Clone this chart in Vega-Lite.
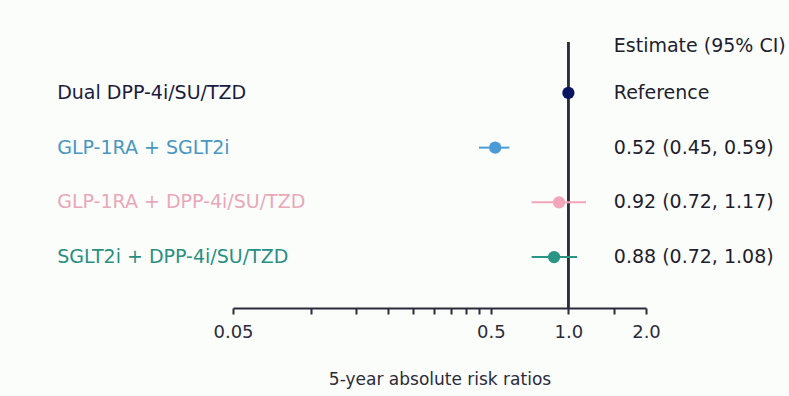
{
  "$schema": "https://vega.github.io/schema/vega-lite/v6.json",
  "width": 413,
  "height": 266,
  "autosize": {"type": "none"},
  "padding": {"left": 233, "top": 42, "right": 143, "bottom": 88},
  "background": "#fbfdfb",
  "config": {
    "view": {"stroke": null},
    "font": "DejaVu Sans"
  },
  "data": {
    "values": [
      {"group": "Dual DPP-4i/SU/TZD", "row": 1, "est": 1.0, "lo": null, "hi": null, "text": "Reference"},
      {"group": "GLP-1RA + SGLT2i", "row": 2, "est": 0.52, "lo": 0.45, "hi": 0.59, "text": "0.52 (0.45, 0.59)"},
      {"group": "GLP-1RA + DPP-4i/SU/TZD", "row": 3, "est": 0.92, "lo": 0.72, "hi": 1.17, "text": "0.92 (0.72, 1.17)"},
      {"group": "SGLT2i + DPP-4i/SU/TZD", "row": 4, "est": 0.88, "lo": 0.72, "hi": 1.08, "text": "0.88 (0.72, 1.08)"}
    ]
  },
  "resolve": {"scale": {"color": "independent"}},
  "layer": [
    {
      "mark": {"type": "rule", "color": "#2b2b3a", "strokeWidth": 2},
      "encoding": {
        "x": {
          "datum": 1,
          "type": "quantitative",
          "scale": {"type": "log", "domain": [0.05, 2], "nice": false, "zero": false},
          "axis": {
            "values": [0.05, 0.1, 0.15, 0.2, 0.25, 0.3, 0.35, 0.4, 0.45, 0.5, 1, 1.5, 2],
            "labelExpr": "datum.value == 0.05 ? '0.05' : datum.value == 0.5 ? '0.5' : datum.value == 1 ? '1.0' : datum.value == 2 ? '2.0' : ''",
            "title": "5-year absolute risk ratios",
            "grid": false,
            "domainColor": "#2b2b3a",
            "domainWidth": 2,
            "tickColor": "#2b2b3a",
            "tickWidth": 2,
            "tickSize": 6,
            "labelFontSize": 18,
            "labelColor": "#2b2b3a",
            "labelPadding": 9,
            "labelFlush": false,
            "labelOverlap": false,
            "titleFontSize": 17,
            "titleFontWeight": "normal",
            "titleColor": "#2b2b3a",
            "titlePadding": 30
          }
        }
      }
    },
    {
      "mark": {"type": "rule", "strokeWidth": 2},
      "encoding": {
        "x": {"field": "lo", "type": "quantitative"},
        "x2": {"field": "hi"},
        "y": {"field": "row", "type": "quantitative", "scale": {"domain": [0.07, 4.93], "reverse": true, "nice": false, "zero": false}, "axis": null},
        "color": {"field": "group", "type": "nominal", "legend": null,
          "scale": {"domain": ["Dual DPP-4i/SU/TZD", "GLP-1RA + SGLT2i", "GLP-1RA + DPP-4i/SU/TZD", "SGLT2i + DPP-4i/SU/TZD"],
                    "range": ["#0a1562", "#4a9bd6", "#f2a6b9", "#2a9485"]}}
      }
    },
    {
      "mark": {"type": "circle", "opacity": 1, "size": 150},
      "encoding": {
        "x": {"field": "est", "type": "quantitative"},
        "y": {"field": "row", "type": "quantitative"},
        "color": {"field": "group", "type": "nominal", "legend": null,
          "scale": {"domain": ["Dual DPP-4i/SU/TZD", "GLP-1RA + SGLT2i", "GLP-1RA + DPP-4i/SU/TZD", "SGLT2i + DPP-4i/SU/TZD"],
                    "range": ["#0a1562", "#4a9bd6", "#f2a6b9", "#2a9485"]}}
      }
    },
    {
      "mark": {"type": "text", "align": "left", "baseline": "middle", "fontSize": 19},
      "encoding": {
        "x": {"datum": 0.0104, "type": "quantitative"},
        "y": {"field": "row", "type": "quantitative"},
        "text": {"field": "group"},
        "color": {"field": "group", "type": "nominal", "legend": null,
          "scale": {"domain": ["Dual DPP-4i/SU/TZD", "GLP-1RA + SGLT2i", "GLP-1RA + DPP-4i/SU/TZD", "SGLT2i + DPP-4i/SU/TZD"],
                    "range": ["#1b1b3d", "#4a96c2", "#e9a8b9", "#2a8f82"]}}
      }
    },
    {
      "mark": {"type": "text", "align": "left", "baseline": "middle", "fontSize": 19, "color": "#1e1e2e"},
      "encoding": {
        "x": {"datum": 1.5, "type": "quantitative"},
        "y": {"field": "row", "type": "quantitative"},
        "text": {"field": "text"}
      }
    },
    {
      "data": {"values": [{"label": "Estimate (95% CI)"}]},
      "mark": {"type": "text", "align": "left", "baseline": "middle", "fontSize": 19, "color": "#1e1e2e"},
      "encoding": {
        "x": {"datum": 1.5, "type": "quantitative"},
        "y": {"datum": 0.14, "type": "quantitative"},
        "text": {"field": "label"}
      }
    }
  ]
}
